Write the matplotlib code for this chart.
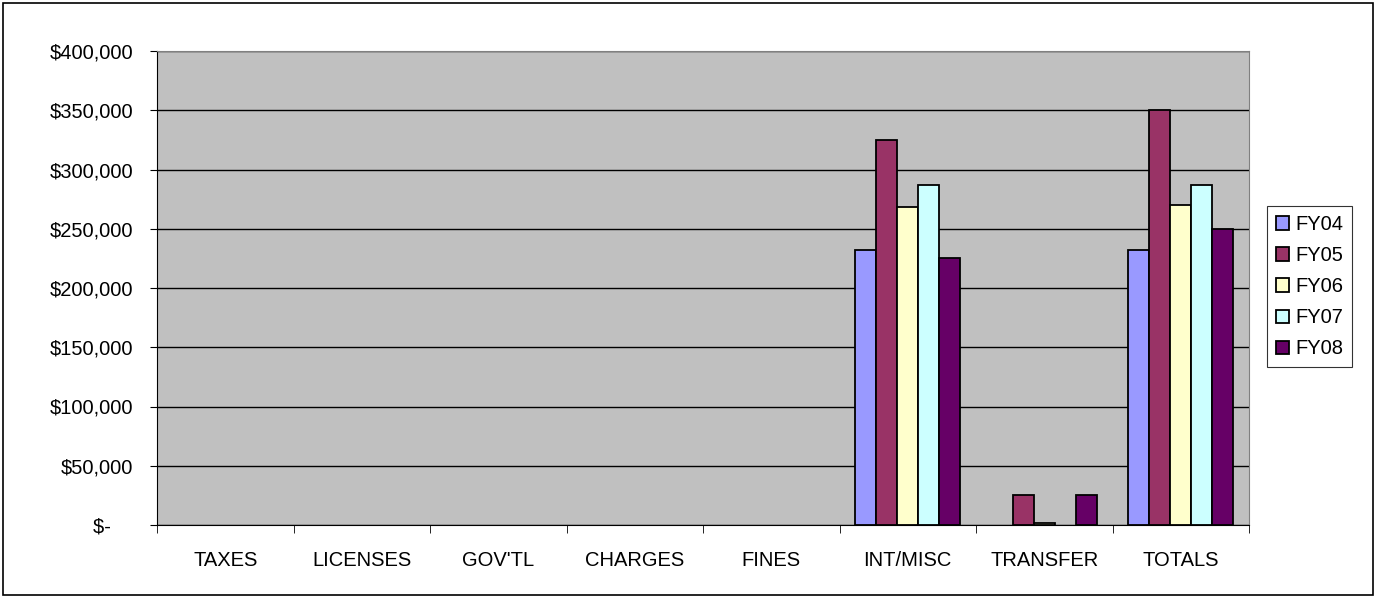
import matplotlib
matplotlib.use("Agg")
import matplotlib.pyplot as plt
import numpy as np
from matplotlib.patches import Rectangle
from matplotlib.ticker import FuncFormatter, FixedLocator

plt.rcParams['font.family'] = ['Liberation Sans', 'DejaVu Sans']

# categories and series values
categories = ["TAXES", "LICENSES", "GOV'TL", "CHARGES", "FINES", "INT/MISC", "TRANSFER", "TOTALS"]
fy04 = [0, 0, 0, 0, 0, 232000, 0, 232000]
fy05 = [0, 0, 0, 0, 0, 325000, 25000, 350000]
fy06 = [0, 0, 0, 0, 0, 268600, 1400, 270000]
fy07 = [0, 0, 0, 0, 0, 287000, 0, 287000]
fy08 = [0, 0, 0, 0, 0, 225000, 25000, 250000]
series_names = ["FY04", "FY05", "FY06", "FY07", "FY08"]
colors = ["#9999FF", "#993366", "#FFFFCC", "#CCFFFF", "#660066"]

fig = plt.figure(figsize=(13.77, 5.98), dpi=100)
ax = fig.add_axes([157 / 1377, 73 / 598, 1092 / 1377, 474 / 598])
ax.set_facecolor("#C0C0C0")

x = np.arange(len(categories))
w = 1 / 6.5
all_series = [fy04, fy05, fy06, fy07, fy08]
for i, (vals, name, c) in enumerate(zip(all_series, series_names, colors)):
    # empty values are not drawn (Excel leaves them blank)
    h = np.array(vals, dtype=float)
    h[h == 0] = np.nan
    ax.bar(x + (i - 2) * w, h, width=w, color=c, edgecolor="black",
           linewidth=1.3, label=name, zorder=3)

ax.set_xlim(-0.5, len(categories) - 0.5)
ax.set_ylim(0, 400000)
ax.set_yticks(np.arange(0, 400001, 50000))
# accounting style: zero shown as "$-" with padding
ax.yaxis.set_major_formatter(FuncFormatter(lambda v, p: "$-    " if v == 0 else f"${v:,.0f}"))
ax.grid(axis="y", color="black", linewidth=1, zorder=1)

ax.set_xticks(x)
ax.set_xticklabels(categories)
ax.xaxis.set_minor_locator(FixedLocator(np.arange(-0.5, len(categories), 1)))
ax.tick_params(axis="x", which="major", length=0, pad=19, labelsize=14.5)
ax.tick_params(axis="x", which="minor", length=6, direction="out", color="black")
ax.tick_params(axis="y", length=5, direction="out", labelsize=14.5, pad=12)

for s in ["top", "right"]:
    ax.spines[s].set_color("#808080")
ax.spines["left"].set_color("black")
ax.spines["bottom"].set_color("black")

leg = fig.legend(loc="upper left", bbox_to_anchor=(1267 / 1377, 1 - 206 / 598),
                 fontsize=14.5, frameon=True, fancybox=False, edgecolor="black",
                 handlelength=0.65, handleheight=0.65, handletextpad=0.3,
                 labelspacing=0.6, borderpad=0.45, borderaxespad=0)
leg.get_frame().set_linewidth(0.8)

fig.patches.append(Rectangle((3 / 1377, 3 / 598), 1370 / 1377, 592 / 598,
                             transform=fig.transFigure, fill=False,
                             edgecolor="black", linewidth=1.2))

fig.savefig("out.png", dpi=100)
